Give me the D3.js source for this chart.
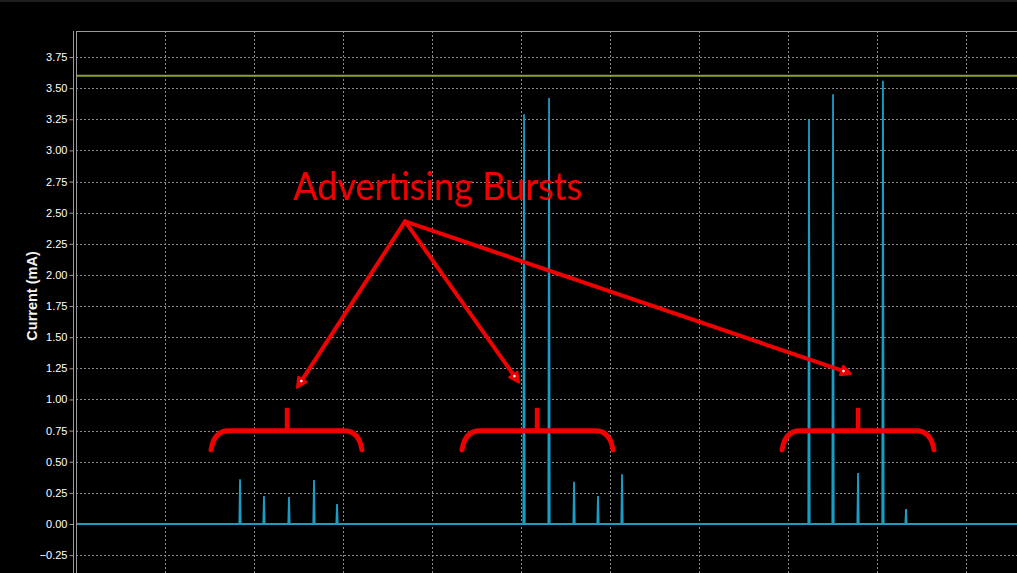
<!DOCTYPE html>
<html><head><meta charset="utf-8">
<script src="https://cdn.jsdelivr.net/npm/d3@7"></script>
<style>html,body{margin:0;padding:0;background:#000;overflow:hidden}</style>
</head><body><svg id="c" width="1017" height="573"></svg>
<script>
// ---- data ----
const yTicks = [-0.25,0,0.25,0.5,0.75,1,1.25,1.5,1.75,2,2.25,2.5,2.75,3,3.25,3.5,3.75];
const xGrid = [1,2,3,4,5,6,7,8,9,10];
const spikeTimes = [1.843,2.112,2.393,2.674,2.933, 5.034,5.315,5.596,5.865,6.135, 8.236,8.506,8.787,9.067,9.326];
const spikePeaks = [0.36,0.225,0.217,0.354,0.16, 3.29,3.42,0.34,0.225,0.40, 3.25,3.45,0.41,3.56,0.12];
const limitValue = 3.60;
const labelText = "Advertising Bursts";
const labelPos = [4.062, 2.6];
const arrowApex = [3.697, 2.43];
const arrowEnds = [[2.483,1.094],[4.978,1.135],[8.708,1.207]];
const braceLeft = [1.517, 4.337, 7.933];
const braceRight = [3.213, 6.034, 9.64];
const braceCenter = [2.371, 5.18, 8.787];
const braceLevel = 0.748, braceEnd = 0.595, braceTick = 0.933;

(function(){
const svg = d3.select("#c");
const W = 1017, H = 573, pLeft = 76, pTop = 31;
const x = d3.scaleLinear().domain([0, 1]).range([76, 165]);
const y = d3.scaleLinear().domain([0, 3.75]).range([524, 57]);

svg.append("rect").attr("width",W).attr("height",H).attr("fill","#000");
svg.append("line").attr("x1",0).attr("x2",W).attr("y1",1).attr("y2",1).attr("stroke","#3a3a3a");

// grid
const g = svg.append("g");
g.selectAll(".hg").data(yTicks).join("line")
  .attr("x1",pLeft).attr("x2",W).attr("y1",d=>Math.round(y(d))+0.5).attr("y2",d=>Math.round(y(d))+0.5)
  .attr("stroke","#8a8a8a").attr("stroke-width",1).attr("stroke-dasharray","2,2");
g.selectAll(".vg").data(xGrid).join("line")
  .attr("x1",d=>Math.round(x(d))+0.5).attr("x2",d=>Math.round(x(d))+0.5).attr("y1",pTop).attr("y2",H)
  .attr("stroke","#8a8a8a").attr("stroke-width",1).attr("stroke-dasharray","2,2");

// border
svg.append("line").attr("x1",pLeft+0.5).attr("x2",W).attr("y1",pTop+0.5).attr("y2",pTop+0.5).attr("stroke","#9a9a9a");
svg.append("line").attr("x1",pLeft+0.5).attr("x2",pLeft+0.5).attr("y1",pTop).attr("y2",H).attr("stroke","#9a9a9a");

// y axis
const yAxis = d3.axisLeft(y).tickValues(yTicks).tickFormat(d3.format(".2f")).tickSize(4).tickPadding(2);
const ax = svg.append("g").attr("transform","translate(73.5,0)").call(yAxis);
ax.select(".domain").attr("stroke","#9a9a9a").attr("d","M0,"+pTop+"V"+H);
ax.selectAll(".tick line").attr("stroke","#9a9a9a");
ax.selectAll("text").attr("fill","#ffffff").style("font-family","Liberation Sans, Arial, sans-serif")
  .style("font-size","11px").style("font-weight","normal");

svg.append("text").attr("transform","translate(37,296) rotate(-90)").attr("text-anchor","middle")
  .attr("fill","#f2f2f2").style("font-family","Liberation Sans, Arial, sans-serif")
  .style("font-size","14.5px").style("font-weight","bold").text("Current (mA)");

// limit line
svg.append("line").attr("x1",pLeft+1).attr("x2",W).attr("y1",y(limitValue)).attr("y2",y(limitValue))
  .attr("stroke","#8da12a").attr("stroke-width",2);

// trace
const pts = [[0,0]];
spikeTimes.forEach((t,i)=>{ pts.push([t-0.008,0],[t,spikePeaks[i]],[t+0.008,0]); });
pts.push([x.invert(W),0]);
svg.append("clipPath").attr("id","pc").append("rect").attr("x",pLeft+1).attr("y",pTop).attr("width",W).attr("height",H);
svg.append("path").attr("clip-path","url(#pc)").datum(pts)
  .attr("d", d3.line().x(d=>x(d[0])).y(d=>y(d[1])))
  .attr("fill","none").attr("stroke","#1b9cc2").attr("stroke-width",1.8).attr("stroke-linejoin","miter");

// annotations
const red = "#f00000";
const ann = svg.append("g");
ann.append("text").attr("x",x(labelPos[0])).attr("y",y(labelPos[1])).attr("text-anchor","middle")
  .attr("fill",red).style("font-family","Lato, 'Open Sans', sans-serif").style("font-size","39px")
  .attr("textLength",289).attr("lengthAdjust","spacingAndGlyphs").text(labelText);

arrowEnds.forEach(e=>{
  const x0=x(arrowApex[0]), y0=y(arrowApex[1]), x1=x(e[0]), y1=y(e[1]);
  const ang=Math.atan2(y1-y0,x1-x0), L=10, Wd=5;
  const bx=x1-L*Math.cos(ang), by=y1-L*Math.sin(ang);
  ann.append("line").attr("x1",x0).attr("y1",y0).attr("x2",bx).attr("y2",by)
    .attr("stroke",red).attr("stroke-width",4).attr("stroke-linecap","round");
  const px=-Math.sin(ang), py=Math.cos(ang);
  ann.append("path").attr("d",`M${x1},${y1}L${bx+px*Wd},${by+py*Wd}L${bx-px*Wd},${by-py*Wd}Z`)
    .attr("fill",red).attr("stroke",red).attr("stroke-width",2).attr("stroke-linejoin","round");
  ann.append("circle").attr("cx",bx+2*Math.cos(ang)).attr("cy",by+2*Math.sin(ang)).attr("r",1.3).attr("fill","#fff");
});

braceLeft.forEach((l,i)=>{
  const xl=x(l), xr=x(braceRight[i]), xc=x(braceCenter[i]);
  const yl=y(braceLevel), ye=y(braceEnd), yt=y(braceTick);
  const r=18;
  ann.append("path").attr("d",`M${xl},${ye} Q${xl+3},${yl} ${xl+r},${yl} L${xr-r},${yl} Q${xr-3},${yl} ${xr},${ye}`)
    .attr("fill","none").attr("stroke",red).attr("stroke-width",5).attr("stroke-linecap","round");
  ann.append("line").attr("x1",xc).attr("x2",xc).attr("y1",yt).attr("y2",yl)
    .attr("stroke",red).attr("stroke-width",4.5);
});
})();
</script></body></html>
